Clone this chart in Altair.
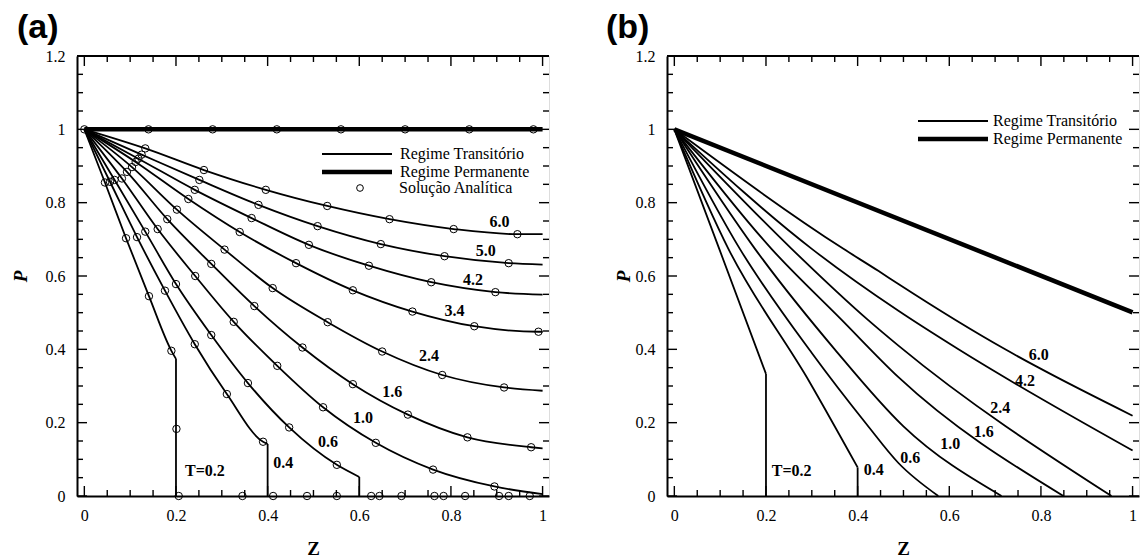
import altair as alt
import pandas as pd

W, H = 472, 440
XDOM = [-0.016, 1.014]
YDOM = [0.0, 1.2]
SERIF = "Liberation Serif"
SANS = "Liberation Sans"

# ---------------- Panel (a) data ----------------
a_T = ["0.2", "0.4", "0.6", "1.0", "1.6", "2.4", "3.4", "4.2", "5.0", "6.0"]
a_z = {
    "0.2": [0, 0.045, 0.091, 0.141, 0.190, 0.200],
    "0.4": [0, 0.056, 0.115, 0.176, 0.241, 0.311, 0.390, 0.400],
    "0.6": [0, 0.066, 0.133, 0.200, 0.277, 0.357, 0.447, 0.551, 0.600],
    "1.0": [0, 0.082, 0.160, 0.242, 0.326, 0.421, 0.521, 0.636, 0.761, 0.895, 1.000],
    "1.6": [0, 0.093, 0.181, 0.277, 0.371, 0.476, 0.586, 0.706, 0.836, 0.975, 1.000],
    "2.4": [0, 0.104, 0.202, 0.306, 0.411, 0.531, 0.650, 0.781, 0.916, 1.000],
    "3.4": [0, 0.112, 0.227, 0.339, 0.462, 0.586, 0.716, 0.851, 0.991, 1.000],
    "4.2": [0, 0.118, 0.241, 0.365, 0.490, 0.621, 0.757, 0.897, 1.000],
    "5.0": [0, 0.125, 0.251, 0.380, 0.509, 0.647, 0.786, 0.926, 1.000],
    "6.0": [0, 0.133, 0.261, 0.396, 0.530, 0.666, 0.806, 0.945, 1.000],
}
a_p = {
    "0.2": [1, 0.855, 0.703, 0.545, 0.396, 0.374],
    "0.4": [1, 0.857, 0.706, 0.560, 0.414, 0.278, 0.148, 0.142],
    "0.6": [1, 0.862, 0.721, 0.578, 0.439, 0.308, 0.187, 0.085, 0.052],
    "1.0": [1, 0.866, 0.728, 0.600, 0.475, 0.355, 0.242, 0.145, 0.072, 0.026, 0.005],
    "1.6": [1, 0.884, 0.755, 0.633, 0.518, 0.405, 0.305, 0.222, 0.160, 0.133, 0.130],
    "2.4": [1, 0.897, 0.781, 0.672, 0.567, 0.474, 0.394, 0.330, 0.296, 0.287],
    "3.4": [1, 0.911, 0.810, 0.720, 0.635, 0.561, 0.503, 0.463, 0.448, 0.448],
    "4.2": [1, 0.920, 0.835, 0.758, 0.685, 0.628, 0.583, 0.556, 0.549],
    "5.0": [1, 0.931, 0.862, 0.794, 0.736, 0.687, 0.654, 0.635, 0.631],
    "6.0": [1, 0.948, 0.889, 0.835, 0.791, 0.755, 0.728, 0.714, 0.714],
}
# fronts (vertical drop to P = 0)
a_front_T = ["0.2", "0.4", "0.6"]
a_front_z = [0.200, 0.400, 0.600]
a_front_p = [0.374, 0.142, 0.052]
# steady regime
a_steady_z = [0.0, 1.0]
a_steady_p = [1.0, 1.0]
# analytic points not lying on the interior of the transient curves
a_extra_z = [0.0, 0.14, 0.28, 0.42, 0.56, 0.70, 0.84, 0.98,
             0.201,
             0.206, 0.345, 0.486, 0.626, 0.764, 0.905,
             0.412, 0.551, 0.692, 0.831, 0.972,
             0.644, 0.784, 0.926]
a_extra_p = [1.0, 1.0, 1.0, 1.0, 1.0, 1.0, 1.0, 1.0,
             0.183,
             0, 0, 0, 0, 0, 0,
             0, 0, 0, 0, 0,
             0, 0, 0]
a_lab_text = ["6.0", "5.0", "4.2", "3.4", "2.4", "1.6", "1.0", "0.6", "0.4", "T=0.2"]
a_lab_z = [0.906, 0.876, 0.848, 0.808, 0.752, 0.672, 0.608, 0.532, 0.434, 0.263]
a_lab_p = [0.746, 0.669, 0.589, 0.505, 0.381, 0.283, 0.212, 0.146, 0.091, 0.068]

# ---------------- Panel (b) data ----------------
b_z = {
    "0.2": [0, 0.098, 0.200],
    "0.4": [0, 0.118, 0.296, 0.400],
    "0.6": [0, 0.143, 0.300, 0.420, 0.489, 0.576],
    "1.0": [0, 0.176, 0.350, 0.500, 0.714],
    "1.6": [0, 0.212, 0.363, 0.489, 0.849],
    "2.4": [0, 0.256, 0.420, 0.489, 0.954],
    "4.2": [0, 0.300, 0.489, 0.620, 1.000],
    "6.0": [0, 0.369, 0.445, 0.489, 0.722, 0.795, 1.000],
}
b_p = {
    "0.2": [1, 0.674, 0.333],
    "0.4": [1, 0.674, 0.309, 0.078],
    "0.6": [1, 0.674, 0.390, 0.195, 0.090, 0.0],
    "1.0": [1, 0.674, 0.400, 0.190, 0.0],
    "1.6": [1, 0.674, 0.483, 0.324, 0.0],
    "2.4": [1, 0.674, 0.483, 0.410, 0.0],
    "4.2": [1, 0.674, 0.505, 0.400, 0.124],
    "6.0": [1, 0.674, 0.614, 0.578, 0.400, 0.350, 0.219],
}
b_front_T = ["0.2", "0.4"]
b_front_z = [0.200, 0.400]
b_front_p = [0.333, 0.078]
b_steady_z = [0.0, 1.0]
b_steady_p = [1.0, 0.501]
b_lab_text = ["6.0", "4.2", "2.4", "1.6", "1.0", "0.6", "0.4", "T=0.2"]
b_lab_z = [0.795, 0.765, 0.711, 0.675, 0.602, 0.515, 0.435, 0.256]
b_lab_p = [0.384, 0.314, 0.241, 0.175, 0.142, 0.103, 0.071, 0.068]

# ---------------- axis ticks ----------------
major_x = [0, 0.2, 0.4, 0.6, 0.8, 1.0]
minor_x = [0.05, 0.10, 0.15, 0.25, 0.30, 0.35, 0.45, 0.50, 0.55,
           0.65, 0.70, 0.75, 0.85, 0.90, 0.95]
major_y = [0, 0.2, 0.4, 0.6, 0.8, 1.0, 1.2]
minor_y = [0.05, 0.10, 0.15, 0.25, 0.30, 0.35, 0.45, 0.50, 0.55,
           0.65, 0.70, 0.75, 0.85, 0.90, 0.95, 1.05, 1.10, 1.15]

TRANS = "Regime Transitório"
PERM = "Regime Permanente"
ANAL = "Solução Analítica"
LAB_FS = 16


def lines_df(zs, ps, sz, sp):
    rows = []
    for t in zs:
        for z, p in zip(zs[t], ps[t]):
            rows.append({"Z": z, "P": p, "T": t, "regime": TRANS})
    for z, p in zip(sz, sp):
        rows.append({"Z": z, "P": p, "T": "steady", "regime": PERM})
    return pd.DataFrame(rows)


xs = alt.Scale(domain=XDOM, nice=False, zero=False)
ys = alt.Scale(domain=YDOM, nice=False, zero=False)


def make_axes(p_title_pad):
    ax = alt.Axis(orient="bottom", values=major_x, format="~g", ticks=False, grid=False,
                  domainColor="black", domainWidth=2,
                  labelFont=SERIF, labelFontSize=LAB_FS, labelColor="black", labelPadding=11,
                  title="Z", titleFont=SERIF, titleFontSize=19, titleFontWeight="bold",
                  titleColor="black", titlePadding=16)
    ay = alt.Axis(orient="left", values=major_y, format="~g", ticks=False, grid=False,
                  domainColor="black", domainWidth=2,
                  labelFont=SERIF, labelFontSize=LAB_FS, labelColor="black", labelPadding=12,
                  title="P", titleFont=SERIF, titleFontSize=19, titleFontWeight="bold",
                  titleFontStyle="italic", titleColor="black", titlePadding=p_title_pad)
    return ax, ay


def panel(zs, ps, sz, sp, fT, fz, fp, lt, lz, lp, title, title_dx, p_pad, leg, circles=None):
    ax, ay = make_axes(p_pad)

    def X():
        return alt.X("Z:Q", scale=xs, axis=ax)

    def Y():
        return alt.Y("P:Q", scale=ys, axis=ay)

    ldf = lines_df(zs, ps, sz, sp)
    lines = alt.Chart(ldf).mark_line(color="black", interpolate="monotone").encode(
        x=X(), y=Y(), detail="T:N",
        strokeWidth=alt.StrokeWidth(
            "regime:N",
            scale=alt.Scale(domain=[TRANS, PERM], range=[1.8, 4.5]),
            legend=alt.Legend(title=None, orient="none", legendX=leg["x"], legendY=leg["y"],
                              symbolType="M-7,0H7", symbolSize=100, symbolStrokeColor="black",
                              labelFont=SERIF, labelFontSize=LAB_FS, labelColor="black",
                              labelOffset=leg["off"], rowPadding=leg["row"])))
    fronts = alt.Chart(pd.DataFrame({"Z": fz, "P": fp, "T": fT})).mark_rule(
        color="black", strokeWidth=1.8).encode(x=X(), y=Y(), y2=alt.datum(0))
    labels = alt.Chart(pd.DataFrame({"Z": lz, "P": lp, "txt": lt})).mark_text(
        font=SERIF, fontSize=LAB_FS, fontWeight="bold", color="black").encode(
        x=X(), y=Y(), text="txt:N")
    layers = [lines, fronts]
    if circles is not None:
        cz, cp, cleg = circles
        cdf = pd.DataFrame({"Z": cz, "P": cp, "kind": [ANAL] * len(cz)})
        layers.append(alt.Chart(cdf).mark_point(
            filled=False, color="black", strokeWidth=1, size=55, opacity=1).encode(
            x=X(), y=Y(),
            shape=alt.Shape("kind:N", scale=alt.Scale(domain=[ANAL], range=["circle"]),
                            legend=alt.Legend(title=None, orient="none",
                                              legendX=cleg["x"], legendY=cleg["y"],
                                              symbolSize=45, symbolStrokeColor="black",
                                              symbolStrokeWidth=1,
                                              labelFont=SERIF, labelFontSize=LAB_FS,
                                              labelColor="black", labelOffset=cleg["off"]))))
    layers.append(labels)

    # inward ticks on all four sides and the top frame line
    dxM = pd.DataFrame({"Z": major_x})
    dxm = pd.DataFrame({"Z": minor_x})
    dyM = pd.DataFrame({"P": major_y})
    dym = pd.DataFrame({"P": minor_y})
    r = dict(color="black", strokeWidth=1.4)
    for d, L in [(dxM, 10), (dxm, 6)]:
        layers.append(alt.Chart(d).mark_rule(**r).encode(
            x=X(), y=alt.value(H), y2=alt.value(H - L)))
        layers.append(alt.Chart(d).mark_rule(**r).encode(
            x=X(), y=alt.value(0), y2=alt.value(L)))
    for d, L in [(dyM, 10), (dym, 6)]:
        layers.append(alt.Chart(d).mark_rule(**r).encode(
            y=Y(), x=alt.value(0), x2=alt.value(L)))
        layers.append(alt.Chart(d).mark_rule(**r).encode(
            y=Y(), x=alt.value(W), x2=alt.value(W - L)))
    layers.append(alt.Chart(pd.DataFrame({"k": [0]})).mark_rule(
        color="black", strokeWidth=2).encode(
        x=alt.value(0), x2=alt.value(W), y=alt.value(0)))

    return alt.layer(*layers).properties(
        width=W, height=H,
        title=alt.TitleParams(title, anchor="start", frame="bounds", font=SANS, fontSize=34,
                              fontWeight="bold", color="black", offset=3, dx=title_dx))


# analytic circles of panel (a): interior points of each transient curve + extras
circ_z, circ_p = [], []
for t in a_T:
    circ_z += a_z[t][1:-1]
    circ_p += a_p[t][1:-1]
circ_z += a_extra_z
circ_p += a_extra_p

pa = panel(a_z, a_p, a_steady_z, a_steady_p, a_front_T, a_front_z, a_front_p,
           a_lab_text, a_lab_z, a_lab_p, "(a)", 6, 15,
           {"x": 272, "y": 90, "off": 35, "row": 1},
           circles=(circ_z, circ_p, {"x": 275, "y": 124, "off": 31}))
pb = panel(b_z, b_p, b_steady_z, b_steady_p, b_front_T, b_front_z, b_front_p,
           b_lab_text, b_lab_z, b_lab_p, "(b)", -8, 2,
           {"x": 278, "y": 57, "off": 32, "row": 1})

chart = alt.hconcat(pa, pb, spacing=52).resolve_legend(strokeWidth="independent").properties(
    padding={"left": 10, "top": 10, "right": 0, "bottom": 0}
).configure_view(stroke=None).configure(background="white")

chart.save("out.html", embed_options={"renderer": "svg", "actions": False})
